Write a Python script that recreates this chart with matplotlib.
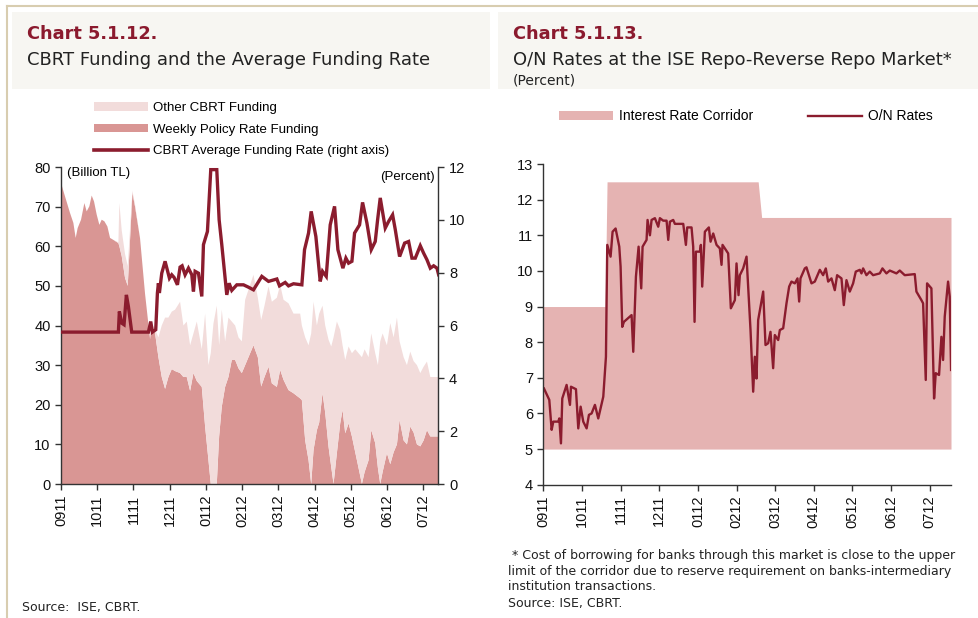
import matplotlib
matplotlib.use('Agg')
import matplotlib.pyplot as plt
from matplotlib.patches import Rectangle, Patch
from matplotlib.lines import Line2D

plt.rcParams['font.family'] = ['Liberation Sans', 'DejaVu Sans']

W, H = 979, 618

month_labels = ['0911', '1011', '1111', '1211', '0112', '0212', '0312',
                '0412', '0512', '0612', '0712']

# Chart 5.1.12 - months since the start of Sep 2011, billion TL
fund_t = [0.0, 0.110, 0.249, 0.341, 0.405, 0.460, 0.553, 0.645, 0.709, 0.783,
          0.847, 0.912, 0.985, 1.059, 1.123, 1.197, 1.280, 1.354, 1.446, 1.584,
          1.611, 1.676, 1.768, 1.842, 1.971, 2.044, 2.182, 2.320, 2.459, 2.505,
          2.597, 2.689, 2.781, 2.873, 2.965, 3.057, 3.149, 3.287, 3.379, 3.471,
          3.564, 3.656, 3.748, 3.886, 3.978, 4.070, 4.134, 4.208, 4.300, 4.365,
          4.438, 4.530, 4.622, 4.714, 4.807, 4.899, 4.991, 5.083, 5.313, 5.433,
          5.525, 5.617, 5.728, 5.820, 5.958, 6.050, 6.142, 6.280, 6.418, 6.602,
          6.648, 6.740, 6.833, 6.906, 6.971, 7.063, 7.127, 7.219, 7.293, 7.385,
          7.459, 7.523, 7.615, 7.707, 7.772, 7.845, 7.938, 8.030, 8.122, 8.214,
          8.306, 8.380, 8.490, 8.564, 8.674, 8.748, 8.812, 8.877, 8.996, 9.089,
          9.181, 9.273, 9.346, 9.457, 9.549, 9.641, 9.733, 9.825, 9.917, 10.009,
          10.101, 10.194, 10.286, 10.424]
weekly_funding = [76, 72.6, 68.4, 65.9, 62.1, 64.6, 66.7, 70.9, 68.8, 70.1,
                  72.8, 71.3, 68.0, 65.4, 66.7, 66.3, 65.0, 62.1, 61.6, 60.8,
                  60.0, 57.5, 52, 50, 73.5, 70, 62, 48, 36.5, 40.6,
                  38, 32, 27, 24, 27, 29, 28.5, 28, 27, 27,
                  23.5, 28, 26, 24.5, 14.5, 6, 0, 0, 0, 12,
                  19.5, 24.5, 27, 31.3, 31.3, 29.2, 28, 30, 35, 32,
                  24.6, 27, 29.6, 25.4, 24.5, 28.8, 26.3, 23.7, 22.9, 21.6,
                  21.2, 11, 6, 0, 8.6, 13.6, 15.5, 22.9, 18, 9.4,
                  4.3, 0, 7.8, 15.3, 18.7, 12.8, 15.3, 12, 8, 4,
                  0, 3, 6, 13.6, 10.3, 4, 0, 3, 7.8, 5,
                  8, 10, 16.2, 11, 10, 14.5, 13, 10, 9.5, 11,
                  13.6, 12, 12, 12]
other_funding = [0, 0, 0, 0, 0, 0, 0, 0, 0, 0,
                 0, 0, 0, 0, 0, 0, 0, 0, 0, 0.2,
                 10.9, 6.5, 6, 5, 0.5, 0.5, 0, 0, 0, 0,
                 1, 5, 13, 18, 15, 14.5, 15.5, 18, 13, 14,
                 11.5, 10, 15, 9.5, 28.5, 24, 33, 40.5, 45, 23,
                 24.5, 11.5, 15, 9.7, 8.7, 7.8, 8, 16.5, 17.8, 15,
                 16.8, 18, 20.3, 20.6, 22.5, 21.5, 20.2, 21.9, 20.1, 21.4,
                 18.8, 26, 29, 38, 37.4, 26.4, 27.5, 22.1, 22, 27,
                 30.4, 37, 33.2, 23.6, 16.3, 18.5, 19.4, 21, 26, 29,
                 32, 31, 26, 24.4, 22.7, 26, 36, 35, 27.2, 35.6,
                 29, 32, 19.8, 21, 20, 18.9, 18, 20, 18.5, 18.6,
                 17.3, 15, 15, 15]

# average funding rate, percent
rate_t = [0.0, 1.584, 1.611, 1.676, 1.740, 1.805, 1.860, 1.952, 2.413, 2.477,
          2.523, 2.615, 2.661, 2.689, 2.716, 2.781, 2.873, 2.993, 3.057, 3.121,
          3.214, 3.287, 3.343, 3.425, 3.518, 3.610, 3.656, 3.702, 3.794, 3.886,
          3.932, 4.042, 4.134, 4.300, 4.365, 4.438, 4.576, 4.641, 4.714, 4.853,
          5.037, 5.175, 5.313, 5.543, 5.728, 5.958, 6.031, 6.188, 6.280, 6.418,
          6.648, 6.722, 6.833, 6.906, 7.035, 7.155, 7.219, 7.321, 7.431, 7.551,
          7.643, 7.781, 7.864, 7.938, 8.030, 8.103, 8.241, 8.324, 8.444, 8.564,
          8.674, 8.739, 8.812, 8.950, 9.043, 9.153, 9.227, 9.346, 9.485, 9.595,
          9.687, 9.779, 9.917, 10.009, 10.101, 10.194, 10.286, 10.378, 10.424]
avg_rate = [5.75, 5.75, 6.53, 6.09, 6.03, 7.16, 6.72, 5.75, 5.75, 6.15,
            5.75, 5.84, 7.23, 7.60, 7.23, 7.98, 8.43, 7.79, 7.92, 7.82,
            7.54, 8.21, 8.26, 7.92, 8.17, 7.92, 7.29, 8.05, 7.98, 7.10,
            9.06, 9.56, 11.90, 11.90, 10.0, 9.06, 7.16, 7.60, 7.33, 7.54,
            7.54, 7.45, 7.35, 7.86, 7.67, 7.76, 7.50, 7.63, 7.50, 7.58,
            7.54, 8.87, 9.50, 10.32, 9.37, 7.67, 8.05, 7.86, 9.81, 10.51,
            8.87, 8.17, 8.55, 8.36, 8.43, 9.50, 9.81, 10.66, 9.88, 8.87,
            9.18, 10.0, 10.83, 9.69, 9.94, 10.19, 9.63, 8.61, 9.12, 9.18,
            8.55, 8.55, 9.02, 8.74, 8.49, 8.17, 8.26, 8.17, 7.92]

# Chart 5.1.13 - O/N repo rates, percent
on_t = [0.017, 0.155, 0.216, 0.259, 0.388, 0.414, 0.457, 0.491, 0.603, 0.690,
        0.716, 0.845, 0.905, 0.966, 1.034, 1.121, 1.181, 1.250, 1.336, 1.422,
        1.552, 1.621, 1.655, 1.741, 1.793, 1.871, 1.966, 2.000, 2.043, 2.086,
        2.284, 2.328, 2.397, 2.466, 2.534, 2.569, 2.672, 2.698, 2.759, 2.802,
        2.888, 2.974, 3.017, 3.103, 3.190, 3.233, 3.276, 3.362, 3.405, 3.621,
        3.690, 3.724, 3.836, 3.879, 3.914, 3.948, 4.052, 4.078, 4.112, 4.181,
        4.284, 4.328, 4.397, 4.483, 4.569, 4.612, 4.638, 4.784, 4.853, 4.957,
        5.000, 5.052, 5.086, 5.172, 5.259, 5.362, 5.431, 5.474, 5.517, 5.560,
        5.690, 5.750, 5.819, 5.879, 5.948, 5.991, 6.078, 6.121, 6.207, 6.293,
        6.362, 6.422, 6.509, 6.578, 6.621, 6.655, 6.767, 6.810, 6.940, 7.026,
        7.155, 7.241, 7.310, 7.371, 7.457, 7.543, 7.603, 7.716, 7.776, 7.845,
        7.931, 8.017, 8.086, 8.190, 8.233, 8.276, 8.362, 8.448, 8.534, 8.707,
        8.776, 8.879, 8.966, 9.138, 9.224, 9.353, 9.612, 9.655, 9.784, 9.828,
        9.897, 9.931, 10.043, 10.112, 10.155, 10.241, 10.302, 10.345, 10.388, 10.474,
        10.517, 10.552]
on_rate = [6.70, 6.38, 5.54, 5.77, 5.77, 5.86, 5.16, 6.42, 6.80, 6.24,
           6.75, 6.68, 5.58, 6.19, 5.77, 5.58, 5.96, 6.00, 6.24, 5.86,
           6.47, 7.59, 10.73, 10.40, 11.10, 11.19, 10.68, 10.12, 8.43, 8.57,
           8.76, 7.73, 9.84, 10.68, 9.51, 10.68, 10.87, 11.43, 11.00, 11.43,
           11.48, 11.24, 11.48, 11.41, 11.41, 10.87, 11.38, 11.43, 11.32, 11.32,
           10.73, 11.22, 11.22, 10.68, 8.57, 10.54, 10.54, 10.73, 9.56, 11.10,
           11.22, 10.82, 11.05, 10.73, 10.63, 10.17, 10.73, 10.49, 8.95, 9.18,
           10.21, 9.32, 9.88, 10.07, 10.40, 8.34, 6.61, 7.59, 6.98, 8.62,
           9.42, 7.92, 7.97, 8.29, 7.27, 8.20, 8.06, 8.34, 8.39, 9.09,
           9.56, 9.70, 9.65, 9.79, 9.14, 9.79, 10.07, 10.10, 9.65, 9.70,
           10.03, 9.88, 10.07, 9.70, 9.79, 9.46, 9.88, 9.79, 9.04, 9.74,
           9.42, 9.65, 9.98, 10.03, 9.93, 10.07, 9.88, 9.98, 9.88, 9.93,
           10.07, 9.93, 10.01, 9.93, 10.01, 9.88, 9.91, 9.42, 9.18, 9.09,
           6.94, 9.65, 9.51, 6.42, 7.13, 7.08, 8.15, 7.50, 8.72, 9.70,
           9.28, 7.22]

corridor_t = [0, 1.60, 1.65, 5.56, 5.65, 10.55]
corridor_hi = [9, 9, 12.5, 12.5, 11.5, 11.5]
corridor_lo = [5, 5, 5, 5, 5, 5]

DARK = '#D99694'
LIGHT = '#F2DCDB'
LINE = '#8B1C2E'
CORR = '#E5B3B2'
RED = '#8B1A2E'
HDR = '#F7F6F2'
FRAME = '#D8CDB0'
SPINE = '#333333'


def fx(x):
    return x / W


def fy(y):
    return 1 - y / H


fig = plt.figure(figsize=(W / 100, H / 100), dpi=100)

# page frame and header boxes
fig.add_artist(Line2D([fx(7), 1], [fy(6), fy(6)], color=FRAME, lw=1.5))
fig.add_artist(Line2D([fx(7), fx(7)], [0, fy(6)], color=FRAME, lw=1.5))
fig.add_artist(Rectangle((fx(12), fy(89)), fx(490) - fx(12), fy(12) - fy(89),
                         color=HDR, lw=0, zorder=0))
fig.add_artist(Rectangle((fx(498), fy(89)), 1 - fx(498), fy(12) - fy(89),
                         color=HDR, lw=0, zorder=0))

fig.text(fx(27), fy(34), 'Chart 5.1.12.', color=RED, fontsize=12.8,
         fontweight='bold', family='DejaVu Sans', va='center')
fig.text(fx(27), fy(60), 'CBRT Funding and the Average Funding Rate',
         color='#222222', fontsize=13, family='DejaVu Sans', va='center')
fig.text(fx(513), fy(34), 'Chart 5.1.13.', color=RED, fontsize=12.8,
         fontweight='bold', family='DejaVu Sans', va='center')
fig.text(fx(513), fy(60), 'O/N Rates at the ISE Repo-Reverse Repo Market*',
         color='#222222', fontsize=12.9, family='DejaVu Sans', va='center')
fig.text(fx(513), fy(80), '(Percent)', color='#222222', fontsize=10,
         family='DejaVu Sans', va='center')


def style_axis(ax):
    for s in ax.spines.values():
        s.set_color(SPINE)
        s.set_linewidth(1)
    ax.spines['top'].set_visible(False)
    ax.tick_params(direction='out', length=4, width=1, color=SPINE,
                   labelsize=10.5, labelcolor='#111111')


# ---- Chart 5.1.12 ----
ax1 = fig.add_axes([fx(61), fy(484), (438.5 - 61) / W, (484 - 167) / H])
ax1.stackplot(fund_t, weekly_funding, other_funding, colors=[DARK, LIGHT],
              linewidth=0)
ax1.set_xlim(0, 10.42)
ax1.set_ylim(0, 80)
ax1.set_yticks(range(0, 81, 10))
ax1.set_xticks(range(len(month_labels)))
ax1.set_xticklabels(month_labels, rotation=90)
style_axis(ax1)
ax1.spines['right'].set_visible(False)

ax2 = ax1.twinx()
ax2.plot(rate_t, avg_rate, color=LINE, lw=2.4, solid_joinstyle='miter')
ax2.set_ylim(0, 12)
ax2.set_yticks(range(0, 13, 2))
style_axis(ax2)
ax2.spines['left'].set_visible(False)
ax2.spines['bottom'].set_visible(False)

ax1.text(0.016, 0.981, '(Billion TL)', transform=ax1.transAxes, fontsize=9.5,
         va='center', ha='left')
ax1.text(0.991, 0.968, '(Percent)', transform=ax1.transAxes, fontsize=9.5,
         va='center', ha='right')

fig.legend(handles=[Patch(color=LIGHT, lw=0), Patch(color=DARK, lw=0),
                    Line2D([], [], color=LINE, lw=2.6)],
           labels=['Other CBRT Funding', 'Weekly Policy Rate Funding',
                   'CBRT Average Funding Rate (right axis)'],
           loc='upper left', bbox_to_anchor=(fx(94), fy(102)), frameon=False,
           fontsize=9.5, handlelength=4.1, handleheight=0.6,
           handletextpad=0.4, labelspacing=0.72, borderpad=0,
           borderaxespad=0)

# ---- Chart 5.1.13 ----
ax3 = fig.add_axes([fx(543.3), fy(484.7), (951 - 543.3) / W,
                    (484.7 - 164) / H])
ax3.fill_between(corridor_t, corridor_lo, corridor_hi, color=CORR, lw=0,
                 label='Interest Rate Corridor')
ax3.plot(on_t, on_rate, color=LINE, lw=1.7, label='O/N Rates')
ax3.set_xlim(0, 10.55)
ax3.set_ylim(4, 13)
ax3.set_yticks(range(4, 14))
ax3.set_xticks(range(len(month_labels)))
ax3.set_xticklabels(month_labels, rotation=90)
style_axis(ax3)
ax3.spines['right'].set_visible(False)

h3, l3 = ax3.get_legend_handles_labels()
fig.legend(h3, l3, loc='upper left', bbox_to_anchor=(fx(559), fy(109.5)),
           ncol=2, frameon=False, fontsize=10, handlelength=3.9,
           handleheight=0.6, handletextpad=0.45, columnspacing=3.9,
           borderpad=0, borderaxespad=0)

# notes and sources
notes = [' * Cost of borrowing for banks through this market is close to the upper',
         'limit of the corridor due to reserve requirement on banks-intermediary',
         'institution transactions.']
for i, line in enumerate(notes):
    fig.text(fx(508), fy(555 + 16 * i), line, fontsize=9,
             family='DejaVu Sans', color='#222222', va='center')
fig.text(fx(508), fy(603), 'Source: ISE, CBRT.', fontsize=9,
         family='DejaVu Sans', color='#222222', va='center')
fig.text(fx(22), fy(607), 'Source:  ISE, CBRT.', fontsize=9,
         family='DejaVu Sans', color='#222222', va='center')

fig.savefig('out.png', dpi=100)
